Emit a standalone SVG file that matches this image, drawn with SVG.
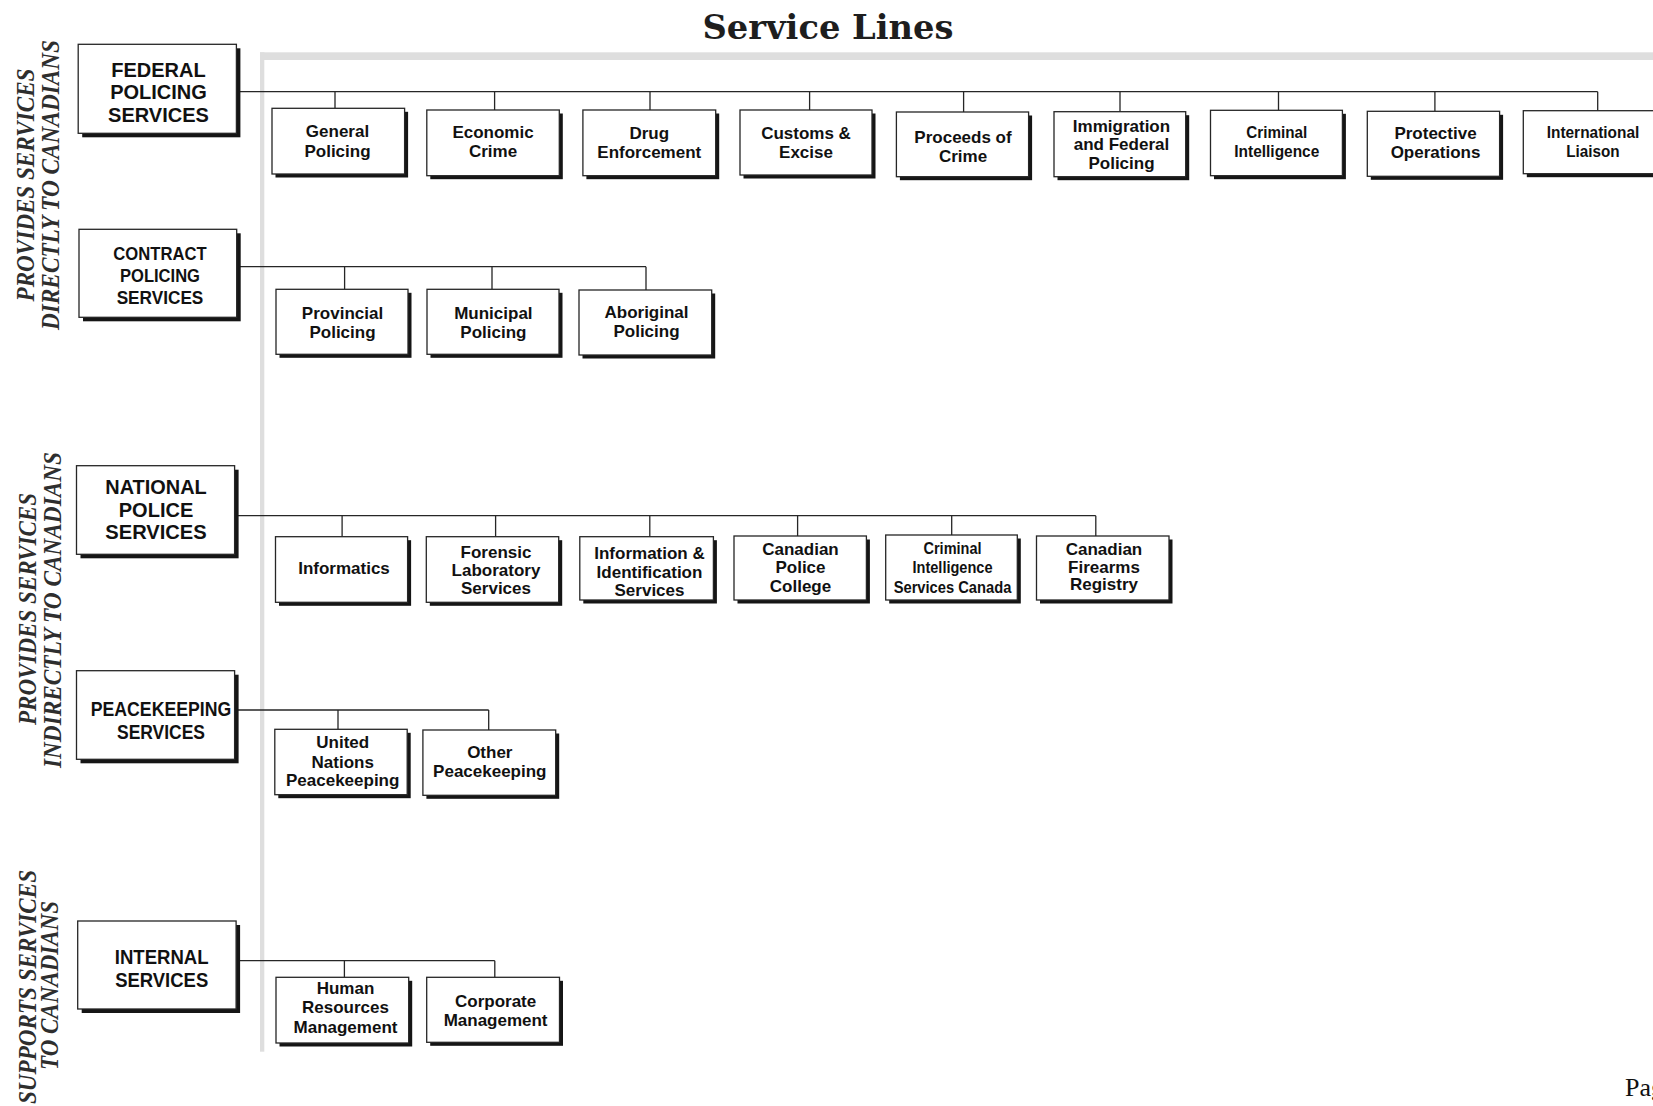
<svg xmlns="http://www.w3.org/2000/svg" width="1653" height="1106" viewBox="0 0 1653 1106">
<style>
.bx{fill:#fff;stroke:#262626;stroke-width:1.3}
.sh{fill:#151515}
.t{font-family:"Liberation Sans",Arial,sans-serif;font-weight:bold;fill:#111;text-anchor:middle}
.big{font-size:20px}
.sm{font-size:17px}
.side{font-family:"Liberation Serif","Times New Roman",serif;font-weight:bold;font-style:italic;font-size:26px;fill:#2e2e2e;text-anchor:middle}
.cn{stroke:#262626;stroke-width:1.3;fill:none}
.frame{fill:#dedede}
</style>
<rect width="1653" height="1106" fill="#fff"/>
<text x="828" y="38.5" font-family="'DejaVu Serif','Liberation Serif',serif" font-weight="bold" font-size="33" fill="#1e1e1e" text-anchor="middle" textLength="251" lengthAdjust="spacingAndGlyphs">Service Lines</text>
<g id="frame">
<rect class="frame" x="260" y="52.3" width="1393" height="7.7"/>
<rect class="frame" x="260" y="52.3" width="4.3" height="999.4"/>
</g>
<g id="side-labels">
<text class="side" transform="translate(34,185) rotate(-90)" textLength="233" lengthAdjust="spacingAndGlyphs">PROVIDES SERVICES</text>
<text class="side" transform="translate(58.5,185) rotate(-90)" textLength="290" lengthAdjust="spacingAndGlyphs">DIRECTLY TO CANADIANS</text>
<text class="side" transform="translate(36,609) rotate(-90)" textLength="232" lengthAdjust="spacingAndGlyphs">PROVIDES SERVICES</text>
<text class="side" transform="translate(60.5,610) rotate(-90)" textLength="316" lengthAdjust="spacingAndGlyphs">INDIRECTLY TO CANADIANS</text>
<text class="side" transform="translate(35.5,987) rotate(-90)" textLength="234" lengthAdjust="spacingAndGlyphs">SUPPORTS SERVICES</text>
<text class="side" transform="translate(57.5,985.5) rotate(-90)" textLength="169" lengthAdjust="spacingAndGlyphs">TO CANADIANS</text>
</g>
<g id="connectors" class="cn">
<path d="M236.4 91.7H1597.7M335 91.7V108.3M494.6 91.7V110M650 91.7V110M809.6 91.7V110M963.6 91.7V112M1120 91.7V111.7M1278.5 91.7V110.3M1434.9 91.7V111.3M1597.7 91.7V110.7"/>
<path d="M236.7 266.7H646M344.6 266.7V289.3M492 266.7V289.3M646 266.7V290"/>
<path d="M234.6 515.7H1095.8M342.1 515.7V536.7M495.6 515.7V536.7M649.8 515.7V536.7M797.6 515.7V536M951.7 515.7V535M1095.8 515.7V536"/>
<path d="M234.6 710H488.7M338 710V729.3M488.7 710V730"/>
<path d="M236.1 960.7H494.8M344.4 960.7V977.3M494.8 960.7V977.3"/>
</g>
<g id="n-federal">
<rect class="sh" x="82.2" y="48.3" width="158.2" height="89"/>
<rect class="bx" x="78.2" y="44.3" width="158.2" height="89"/>
<text class="t big" x="158.5" y="76.7">FEDERAL</text>
<text class="t big" x="158.5" y="99.3">POLICING</text>
<text class="t big" x="158.5" y="121.7">SERVICES</text>
</g>
<g id="n-contract">
<rect class="sh" x="83" y="233.3" width="157.7" height="88"/>
<rect class="bx" x="79" y="229.3" width="157.7" height="88"/>
<text class="t" font-size="19" x="160" y="260" textLength="93.3" lengthAdjust="spacingAndGlyphs">CONTRACT</text>
<text class="t" font-size="19" x="160" y="282.3" textLength="80" lengthAdjust="spacingAndGlyphs">POLICING</text>
<text class="t" font-size="19" x="160" y="304.3" textLength="86.7" lengthAdjust="spacingAndGlyphs">SERVICES</text>
</g>
<g id="n-national">
<rect class="sh" x="80.5" y="469.7" width="158.1" height="88.6"/>
<rect class="bx" x="76.5" y="465.7" width="158.1" height="88.6"/>
<text class="t big" x="156" y="494" textLength="101.4" lengthAdjust="spacingAndGlyphs">NATIONAL</text>
<text class="t big" x="156" y="517.3">POLICE</text>
<text class="t big" x="156" y="539.3" textLength="101.4" lengthAdjust="spacingAndGlyphs">SERVICES</text>
</g>
<g id="n-peacekeeping">
<rect class="sh" x="80.5" y="674.7" width="158.1" height="88.6"/>
<rect class="bx" x="76.5" y="670.7" width="158.1" height="88.6"/>
<text class="t big" x="161" y="716" textLength="140.5" lengthAdjust="spacingAndGlyphs">PEACEKEEPING</text>
<text class="t big" x="161" y="739" textLength="88" lengthAdjust="spacingAndGlyphs">SERVICES</text>
</g>
<g id="n-internal">
<rect class="sh" x="81.7" y="925" width="158.4" height="88"/>
<rect class="bx" x="77.7" y="921" width="158.4" height="88"/>
<text class="t big" x="161.7" y="964" textLength="93.8" lengthAdjust="spacingAndGlyphs">INTERNAL</text>
<text class="t big" x="161.7" y="986.7" textLength="93" lengthAdjust="spacingAndGlyphs">SERVICES</text>
</g>
<g id="n-general-policing">
<rect class="sh" x="275.5" y="111.8" width="132.6" height="65.7"/>
<rect class="bx" x="272" y="108.3" width="132.6" height="65.7"/>
<text class="t sm" x="337.5" y="137.3">General</text>
<text class="t sm" x="337.5" y="157.3">Policing</text>
</g>
<g id="n-economic-crime">
<rect class="sh" x="430.3" y="113.5" width="132.5" height="65.7"/>
<rect class="bx" x="426.8" y="110" width="132.5" height="65.7"/>
<text class="t sm" x="493" y="138.3">Economic</text>
<text class="t sm" x="493" y="157.3">Crime</text>
</g>
<g id="n-drug-enforcement">
<rect class="sh" x="586.4" y="113.5" width="132.8" height="65.7"/>
<rect class="bx" x="582.9" y="110" width="132.8" height="65.7"/>
<text class="t sm" x="649.3" y="139">Drug</text>
<text class="t sm" x="649.3" y="157.7">Enforcement</text>
</g>
<g id="n-customs-excise">
<rect class="sh" x="743.5" y="113.5" width="132" height="65"/>
<rect class="bx" x="740" y="110" width="132" height="65"/>
<text class="t sm" x="806" y="139.3">Customs &amp;</text>
<text class="t sm" x="806" y="158.3">Excise</text>
</g>
<g id="n-proceeds-of-crime">
<rect class="sh" x="899.9" y="115.5" width="132.2" height="64.7"/>
<rect class="bx" x="896.4" y="112" width="132.2" height="64.7"/>
<text class="t sm" x="963" y="143.3">Proceeds of</text>
<text class="t sm" x="963" y="161.7">Crime</text>
</g>
<g id="n-immigration">
<rect class="sh" x="1057.5" y="115.2" width="131.7" height="65"/>
<rect class="bx" x="1054" y="111.7" width="131.7" height="65"/>
<text class="t sm" x="1121.5" y="131.7">Immigration</text>
<text class="t sm" x="1121.5" y="150.3">and Federal</text>
<text class="t sm" x="1121.5" y="169.3">Policing</text>
</g>
<g id="n-criminal-intelligence">
<rect class="sh" x="1214" y="113.8" width="131.9" height="65.4"/>
<rect class="bx" x="1210.5" y="110.3" width="131.9" height="65.4"/>
<text class="t sm" x="1276.8" y="138.3" textLength="61" lengthAdjust="spacingAndGlyphs">Criminal</text>
<text class="t sm" x="1276.8" y="157.3" textLength="85" lengthAdjust="spacingAndGlyphs">Intelligence</text>
</g>
<g id="n-protective-operations">
<rect class="sh" x="1370.8" y="114.8" width="132.3" height="65"/>
<rect class="bx" x="1367.3" y="111.3" width="132.3" height="65"/>
<text class="t sm" x="1435.5" y="139.3">Protective</text>
<text class="t sm" x="1435.5" y="158.3">Operations</text>
</g>
<g id="n-international-liaison">
<rect class="sh" x="1526.8" y="114.2" width="132.5" height="63"/>
<rect class="bx" x="1523.3" y="110.7" width="132.5" height="63"/>
<text class="t sm" x="1593" y="138.3" textLength="92.6" lengthAdjust="spacingAndGlyphs">International</text>
<text class="t sm" x="1593" y="157.3" textLength="53.4" lengthAdjust="spacingAndGlyphs">Liaison</text>
</g>
<g id="n-provincial-policing">
<rect class="sh" x="279.5" y="292.8" width="132" height="65"/>
<rect class="bx" x="276" y="289.3" width="132" height="65"/>
<text class="t sm" x="342.5" y="318.8">Provincial</text>
<text class="t sm" x="342.5" y="337.8">Policing</text>
</g>
<g id="n-municipal-policing">
<rect class="sh" x="430.5" y="292.8" width="132" height="65"/>
<rect class="bx" x="427" y="289.3" width="132" height="65"/>
<text class="t sm" x="493.4" y="318.8">Municipal</text>
<text class="t sm" x="493.4" y="337.8">Policing</text>
</g>
<g id="n-aboriginal-policing">
<rect class="sh" x="582.5" y="293.5" width="132.7" height="65"/>
<rect class="bx" x="579" y="290" width="132.7" height="65"/>
<text class="t sm" x="646.5" y="317.5">Aboriginal</text>
<text class="t sm" x="646.5" y="336.5">Policing</text>
</g>
<g id="n-informatics">
<rect class="sh" x="279" y="540.2" width="132.1" height="65.6"/>
<rect class="bx" x="275.5" y="536.7" width="132.1" height="65.6"/>
<text class="t sm" x="344" y="574.3">Informatics</text>
</g>
<g id="n-forensic">
<rect class="sh" x="429.8" y="540.2" width="132.4" height="65.6"/>
<rect class="bx" x="426.3" y="536.7" width="132.4" height="65.6"/>
<text class="t sm" x="496" y="558.3">Forensic</text>
<text class="t sm" x="496" y="576.3">Laboratory</text>
<text class="t sm" x="496" y="594.3">Services</text>
</g>
<g id="n-information-identification">
<rect class="sh" x="583.3" y="540.2" width="133.6" height="63.3"/>
<rect class="bx" x="579.8" y="536.7" width="133.6" height="63.3"/>
<text class="t sm" x="649.5" y="559.3">Information &amp;</text>
<text class="t sm" x="649.5" y="577.5">Identification</text>
<text class="t sm" x="649.5" y="595.8">Services</text>
</g>
<g id="n-police-college">
<rect class="sh" x="737.5" y="539.5" width="132.4" height="64"/>
<rect class="bx" x="734" y="536" width="132.4" height="64"/>
<text class="t sm" x="800.5" y="555">Canadian</text>
<text class="t sm" x="800.5" y="573">Police</text>
<text class="t sm" x="800.5" y="591.5">College</text>
</g>
<g id="n-cisc">
<rect class="sh" x="889.2" y="538.5" width="131.6" height="65"/>
<rect class="bx" x="885.7" y="535" width="131.6" height="65"/>
<text class="t" font-size="16" x="952.5" y="554.3" textLength="58" lengthAdjust="spacingAndGlyphs">Criminal</text>
<text class="t" font-size="16" x="952.5" y="573.3" textLength="80" lengthAdjust="spacingAndGlyphs">Intelligence</text>
<text class="t" font-size="16" x="952.5" y="592.7" textLength="117.7" lengthAdjust="spacingAndGlyphs">Services Canada</text>
</g>
<g id="n-firearms-registry">
<rect class="sh" x="1040" y="539.5" width="132.5" height="64"/>
<rect class="bx" x="1036.5" y="536" width="132.5" height="64"/>
<text class="t sm" x="1104" y="555">Canadian</text>
<text class="t sm" x="1104" y="572.8">Firearms</text>
<text class="t sm" x="1104" y="590.3">Registry</text>
</g>
<g id="n-un-peacekeeping">
<rect class="sh" x="278.3" y="732.8" width="132.4" height="65.4"/>
<rect class="bx" x="274.8" y="729.3" width="132.4" height="65.4"/>
<text class="t sm" x="342.7" y="748.3">United</text>
<text class="t sm" x="342.7" y="767.5">Nations</text>
<text class="t sm" x="342.7" y="785.5">Peacekeeping</text>
</g>
<g id="n-other-peacekeeping">
<rect class="sh" x="426.4" y="733.5" width="132.8" height="65.3"/>
<rect class="bx" x="422.9" y="730" width="132.8" height="65.3"/>
<text class="t sm" x="489.8" y="757.7">Other</text>
<text class="t sm" x="489.8" y="776.7">Peacekeeping</text>
</g>
<g id="n-hr-management">
<rect class="sh" x="279.5" y="980.8" width="132.7" height="65.7"/>
<rect class="bx" x="276" y="977.3" width="132.7" height="65.7"/>
<text class="t sm" x="345.5" y="994">Human</text>
<text class="t sm" x="345.5" y="1013.3">Resources</text>
<text class="t sm" x="345.5" y="1032.5">Management</text>
</g>
<g id="n-corporate-management">
<rect class="sh" x="430.2" y="980.8" width="132.8" height="65"/>
<rect class="bx" x="426.7" y="977.3" width="132.8" height="65"/>
<text class="t sm" x="495.6" y="1006.7">Corporate</text>
<text class="t sm" x="495.6" y="1026">Management</text>
</g>
<text x="1625" y="1095.7" font-family="'Liberation Serif','Times New Roman',serif" font-size="26" fill="#111">Pag</text>
</svg>
